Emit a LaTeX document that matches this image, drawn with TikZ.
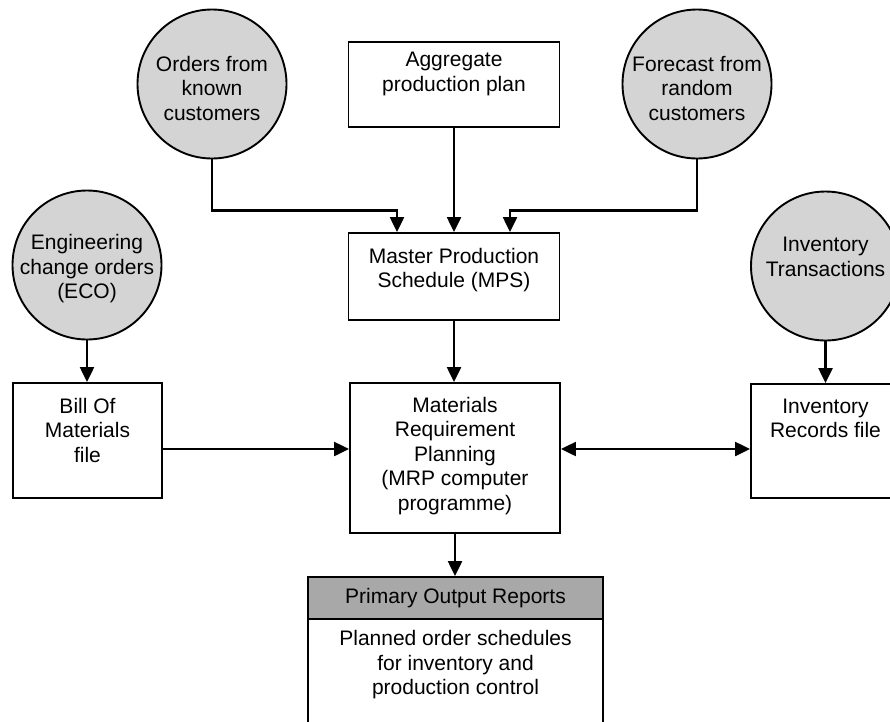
\documentclass[tikz,border=0pt]{standalone}
\usepackage{fontspec}
\setmainfont{Liberation Sans}
\usetikzlibrary{arrows.meta}
\definecolor{circfill}{gray}{0.83}
\definecolor{headfill}{gray}{0.66}
\tikzset{
  boxnode/.style={draw, line width=1.9pt, rectangle, inner sep=0pt},
  circnode/.style={draw, line width=1.9pt, circle, fill=circfill, inner sep=0pt, minimum size=149pt},
  txt/.style={align=center, font=\fontsize{21}{24.5}\selectfont, inner sep=0pt},
  arr/.style={line width=2.3pt, -{Triangle[length=15pt,width=14pt]}},
  darr/.style={line width=2.3pt, {Triangle[length=15pt,width=14pt]}-{Triangle[length=15pt,width=14pt]}}
}
\begin{document}
\begin{tikzpicture}[x=1pt,y=-1pt]
\useasboundingbox (0,0) rectangle (890,721);
\clip (0,0) rectangle (890,721);
\fill[white] (0,0) rectangle (890,721);

% circles
\node[circnode] (ord) at (212,84) {};
\node[txt] (ordt) at (212,88) {Orders from\\known\\customers};
\node[circnode] (fc) at (697,84) {};
\node[txt] (fct) at (697,88) {Forecast from\\random\\customers};
\node[circnode] (eco) at (87,265) {};
\node[txt] (ecot) at (87,269) {Engineering\\change orders\\(ECO)};
\node[circnode] (invt) at (825.5,266) {};
\node[txt] (invtt) at (825.5,257) {Inventory\\Transactions};

% boxes
\node[boxnode, minimum width=211pt, minimum height=85pt] (agg) at (454,84.5) {};
\node[txt] (aggt) at (454,74) {Aggregate\\production plan};
\node[boxnode, minimum width=211pt, minimum height=87pt] (mps) at (454,276.5) {};
\node[txt] (mpst) at (454,270) {Master Production\\Schedule (MPS)};
\node[boxnode, minimum width=210pt, minimum height=150pt] (mrp) at (455,458) {};
\node[txt] (mrpt) at (455,456) {Materials\\Requirement\\Planning\\(MRP computer\\programme)};
\node[boxnode, minimum width=149pt, minimum height=115pt] (bom) at (87.5,440.5) {};
\node[txt] (bomt) at (87.5,430) {Bill Of\\Materials\\file};
\node[boxnode, minimum width=149pt, minimum height=114pt] (inv) at (825.5,441) {};
\node[txt] (invrt) at (825.5,418.5) {Inventory\\Records file};

% output box
\node[boxnode, fill=headfill, minimum width=295pt, minimum height=42pt] (outh) at (455.5,598) {};
\node[txt] (outht) at (455.5,598) {Primary Output Reports};
\node[boxnode, minimum width=295pt, minimum height=130pt] (outb) at (455.5,684) {};
\node[txt] (outbt) at (455.5,665) {Planned order schedules\\for inventory and\\production control};

% connectors
\coordinate (hy) at (0,449);
\draw[arr] (ord.south) -- ++(0,51) -| ([xshift=-57pt]mps.north);
\draw[arr] (agg.south) -- (mps.north);
\draw[arr] (fc.south) -- ++(0,51) -| ([xshift=56pt]mps.north);
\draw[arr] (mps.south) -- (mrp.north -| mps.south);
\draw[arr] (eco.south) -- (bom.north -| eco.south);
\draw[arr] (bom.east |- hy) -- (mrp.west |- hy);
\draw[darr] (mrp.east |- hy) -- (inv.west |- hy);
\draw[arr] (invt.south) -- (inv.north -| invt.south);
\draw[arr] (mrp.south) -- (outh.north -| mrp.south);
\end{tikzpicture}
\end{document}
